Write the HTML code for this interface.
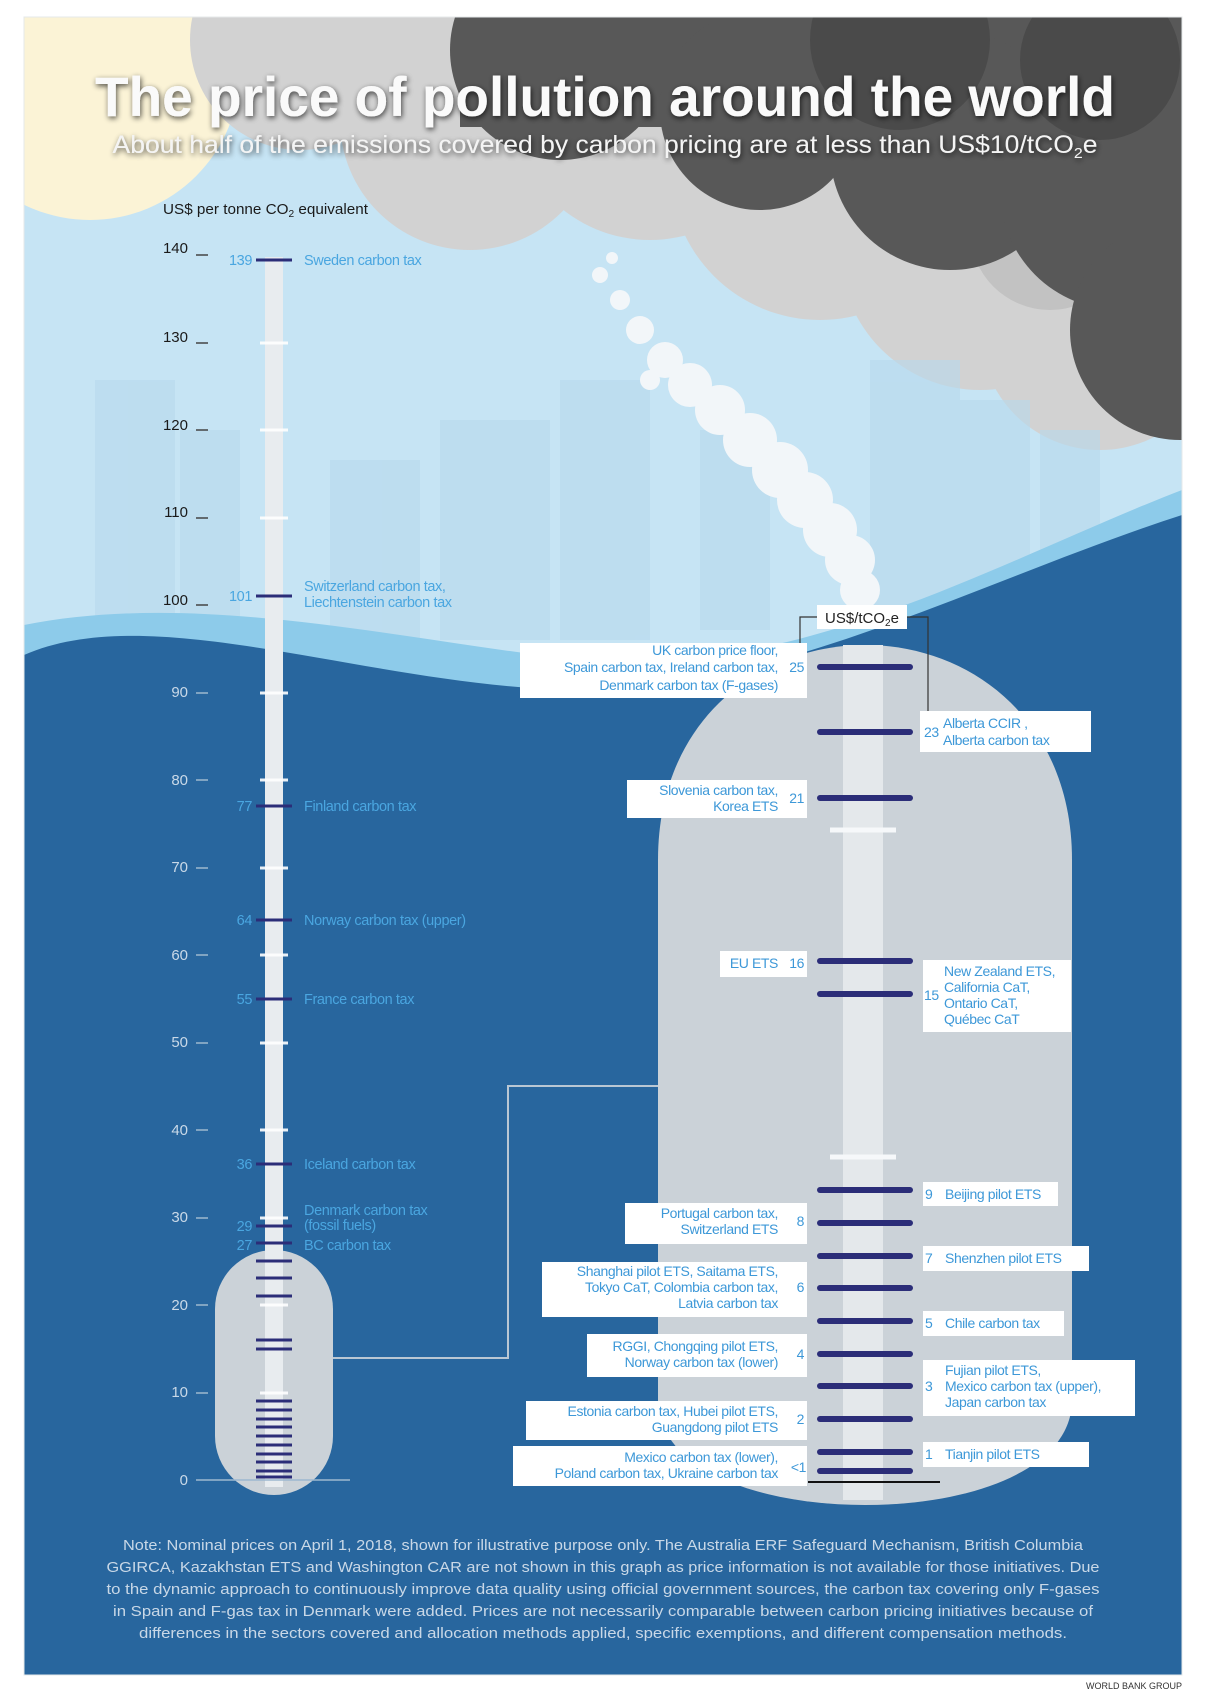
<!DOCTYPE html>
<html><head><meta charset="utf-8"><style>
html,body{margin:0;padding:0;background:#fff;}
svg{display:block;font-family:"Liberation Sans",sans-serif;}
</style></head><body>
<svg width="1211" height="1702" viewBox="0 0 1211 1702" xmlns="http://www.w3.org/2000/svg">
<defs>
<clipPath id="fr"><rect x="24" y="17" width="1158" height="1658"/></clipPath>
<filter id="sh" x="-5%" y="-30%" width="110%" height="160%"><feGaussianBlur in="SourceAlpha" stdDeviation="3"/><feOffset dx="1" dy="2"/><feComponentTransfer><feFuncA type="linear" slope="0.7"/></feComponentTransfer><feMerge><feMergeNode/><feMergeNode in="SourceGraphic"/></feMerge></filter>
</defs>
<g clip-path="url(#fr)">
<rect x="24" y="17" width="1158" height="1658" fill="#c6e4f4"/>
<circle cx="90" cy="70" r="150" fill="#fbf3d6"/>
<g fill="#d2d2d2">
<circle cx="300" cy="40" r="110"/><circle cx="470" cy="120" r="130"/><circle cx="650" cy="100" r="140"/>
<circle cx="820" cy="170" r="150"/><circle cx="980" cy="250" r="140"/><circle cx="1100" cy="330" r="120"/>
<circle cx="560" cy="20" r="120"/>
</g>
<g fill="#c2c2c2"><circle cx="760" cy="60" r="90"/><circle cx="1050" cy="230" r="80"/></g>
<g fill="#585858">
<rect x="460" y="17" width="730" height="110"/>
<circle cx="560" cy="50" r="110"/><circle cx="760" cy="110" r="100"/><circle cx="950" cy="150" r="120"/>
<circle cx="1120" cy="190" r="120"/><circle cx="1180" cy="330" r="110"/><rect x="1150" y="17" width="40" height="400"/>
</g>
<g fill="#4a4a4a"><circle cx="900" cy="40" r="90"/><circle cx="1100" cy="60" r="80"/></g>
<g fill="#b8d9ec" opacity="0.6">
<rect x="95" y="380" width="80" height="260"/><rect x="180" y="430" width="60" height="200"/>
<rect x="330" y="460" width="90" height="180"/><rect x="440" y="420" width="110" height="220"/>
<rect x="560" y="380" width="90" height="260"/><rect x="700" y="430" width="70" height="200"/>
<rect x="870" y="360" width="90" height="260"/><rect x="960" y="400" width="70" height="220"/>
<rect x="1040" y="430" width="60" height="190"/>
</g>
<g fill="#f2f6f9">
<circle cx="600" cy="275" r="8"/><circle cx="620" cy="300" r="10"/><circle cx="640" cy="330" r="14"/>
<circle cx="665" cy="360" r="18"/><circle cx="690" cy="385" r="22"/><circle cx="720" cy="410" r="25"/>
<circle cx="750" cy="440" r="27"/><circle cx="780" cy="470" r="28"/><circle cx="805" cy="500" r="28"/>
<circle cx="830" cy="530" r="27"/><circle cx="850" cy="560" r="25"/><circle cx="860" cy="590" r="20"/>
<circle cx="650" cy="380" r="10"/><circle cx="612" cy="258" r="6"/>
</g>
<path d="M24 625 C 200 590, 400 640, 580 660 C 800 680, 1000 560, 1182 490 L1182 1675 L24 1675 Z" fill="#8dcbea"/>
<path d="M24 655 C 150 600, 350 680, 560 690 C 760 700, 980 580, 1182 515 L1182 1675 L24 1675 Z" fill="#28669e"/>
<path d="M658 1400 L658 860 C 658 720, 760 645, 865 645 C 970 645, 1072 720, 1072 860 L1072 1400 C 1072 1470, 970 1505, 865 1505 C 760 1505, 658 1470, 658 1400 Z" fill="#cbd2d8"/>
<rect x="843" y="645" width="40" height="855" fill="#e4e8eb"/>
<rect x="215" y="1250" width="118" height="245" rx="59" fill="#cbd2d8"/>
<rect x="265" y="257" width="18" height="1230" fill="#e8ecef"/>
<polyline points="333,1358 508,1358 508,1086 658,1086" fill="none" stroke="#b9c7d4" stroke-width="2"/>
</g>
<rect x="24" y="17" width="1158" height="1658" fill="none" stroke="#e5e8ea" stroke-width="1"/>

<text x="605" y="116" text-anchor="middle" font-size="56" font-weight="bold" fill="#fafafa" textLength="1020" lengthAdjust="spacingAndGlyphs" filter="url(#sh)">The price of pollution around the world</text>
<text x="605" y="153" text-anchor="middle" font-size="25" fill="#f4f4f4" textLength="985" lengthAdjust="spacingAndGlyphs" filter="url(#sh)">About half of the emissions covered by carbon pricing are at less than US$10/tCO<tspan font-size="15" dy="5">2</tspan><tspan dy="-5">e</tspan></text>

<text x="163" y="214" font-size="15" fill="#1a1a1a" textLength="205" lengthAdjust="spacingAndGlyphs">US$ per tonne CO<tspan font-size="10" dy="3">2</tspan><tspan dy="-3"> equivalent</tspan></text>

<g font-size="15" text-anchor="end">
<g fill="#1a1a1a"><text x="188" y="253">140</text><text x="188" y="342">130</text><text x="188" y="430">120</text><text x="188" y="517">110</text><text x="188" y="605">100</text></g>
<g fill="#c9d9e8"><text x="188" y="697">90</text><text x="188" y="785">80</text><text x="188" y="872">70</text><text x="188" y="960">60</text><text x="188" y="1047">50</text><text x="188" y="1135">40</text><text x="188" y="1222">30</text><text x="188" y="1310">20</text><text x="188" y="1397">10</text><text x="188" y="1485">0</text></g>
</g>
<g stroke-width="1.5">
<g stroke="#444"><line x1="196" y1="255" x2="208" y2="255"/><line x1="196" y1="343" x2="208" y2="343"/><line x1="196" y1="430" x2="208" y2="430"/><line x1="196" y1="518" x2="208" y2="518"/><line x1="196" y1="605" x2="208" y2="605"/></g>
<g stroke="#9db8cf"><line x1="196" y1="693" x2="208" y2="693"/><line x1="196" y1="780" x2="208" y2="780"/><line x1="196" y1="868" x2="208" y2="868"/><line x1="196" y1="955" x2="208" y2="955"/><line x1="196" y1="1043" x2="208" y2="1043"/><line x1="196" y1="1130" x2="208" y2="1130"/><line x1="196" y1="1218" x2="208" y2="1218"/><line x1="196" y1="1305" x2="208" y2="1305"/><line x1="196" y1="1393" x2="208" y2="1393"/><line x1="196" y1="1480" x2="350" y2="1480"/></g>
</g>
<g stroke="#ffffff" stroke-width="3" opacity="0.9">
<line x1="260" y1="343" x2="288" y2="343"/><line x1="260" y1="430" x2="288" y2="430"/><line x1="260" y1="518" x2="288" y2="518"/><line x1="260" y1="693" x2="288" y2="693"/><line x1="260" y1="780" x2="288" y2="780"/><line x1="260" y1="868" x2="288" y2="868"/><line x1="260" y1="955" x2="288" y2="955"/><line x1="260" y1="1043" x2="288" y2="1043"/><line x1="260" y1="1130" x2="288" y2="1130"/><line x1="260" y1="1218" x2="288" y2="1218"/><line x1="260" y1="1305" x2="288" y2="1305"/><line x1="260" y1="1393" x2="288" y2="1393"/>
</g>
<g stroke="#2b2d78" stroke-width="3">
<line x1="256" y1="260" x2="292" y2="260"/><line x1="256" y1="596" x2="292" y2="596"/><line x1="256" y1="806" x2="292" y2="806"/><line x1="256" y1="920" x2="292" y2="920"/><line x1="256" y1="999" x2="292" y2="999"/><line x1="256" y1="1164" x2="292" y2="1164"/><line x1="256" y1="1226" x2="292" y2="1226"/><line x1="256" y1="1243" x2="292" y2="1243"/>
<line x1="256" y1="1261" x2="292" y2="1261"/><line x1="256" y1="1278" x2="292" y2="1278"/><line x1="256" y1="1296" x2="292" y2="1296"/><line x1="256" y1="1340" x2="292" y2="1340"/><line x1="256" y1="1349" x2="292" y2="1349"/>
<line x1="256" y1="1401" x2="292" y2="1401"/><line x1="256" y1="1410" x2="292" y2="1410"/><line x1="256" y1="1419" x2="292" y2="1419"/><line x1="256" y1="1427" x2="292" y2="1427"/><line x1="256" y1="1436" x2="292" y2="1436"/><line x1="256" y1="1445" x2="292" y2="1445"/><line x1="256" y1="1454" x2="292" y2="1454"/><line x1="256" y1="1462" x2="292" y2="1462"/><line x1="256" y1="1471" x2="292" y2="1471"/><line x1="256" y1="1477" x2="292" y2="1477"/>
</g>
<g font-size="14.5" fill="#4aa6e0" letter-spacing="-0.4">
<text x="252" y="265" text-anchor="end">139</text><text x="304" y="265">Sweden carbon tax</text>
<text x="252" y="601" text-anchor="end">101</text><text x="304" y="591">Switzerland carbon tax,</text><text x="304" y="607">Liechtenstein carbon tax</text>
<text x="252" y="811" text-anchor="end">77</text><text x="304" y="811">Finland carbon tax</text>
<text x="252" y="925" text-anchor="end">64</text><text x="304" y="925">Norway carbon tax (upper)</text>
<text x="252" y="1004" text-anchor="end">55</text><text x="304" y="1004">France carbon tax</text>
<text x="252" y="1169" text-anchor="end">36</text><text x="304" y="1169">Iceland carbon tax</text>
<text x="304" y="1215">Denmark carbon tax</text><text x="252" y="1231" text-anchor="end">29</text><text x="304" y="1230">(fossil fuels)</text>
<text x="252" y="1250" text-anchor="end">27</text><text x="304" y="1250">BC carbon tax</text>
</g>

<g stroke="#f6f8fa" stroke-width="5"><line x1="830" y1="830" x2="896" y2="830"/><line x1="830" y1="1157" x2="896" y2="1157"/></g>
<g stroke="#2b2d78" stroke-width="6" stroke-linecap="round">
<line x1="820" y1="667" x2="910" y2="667"/><line x1="820" y1="732" x2="910" y2="732"/><line x1="820" y1="798" x2="910" y2="798"/><line x1="820" y1="961" x2="910" y2="961"/><line x1="820" y1="994" x2="910" y2="994"/>
<line x1="820" y1="1190" x2="910" y2="1190"/><line x1="820" y1="1223" x2="910" y2="1223"/><line x1="820" y1="1256" x2="910" y2="1256"/><line x1="820" y1="1288" x2="910" y2="1288"/><line x1="820" y1="1321" x2="910" y2="1321"/><line x1="820" y1="1354" x2="910" y2="1354"/><line x1="820" y1="1386" x2="910" y2="1386"/><line x1="820" y1="1419" x2="910" y2="1419"/><line x1="820" y1="1452" x2="910" y2="1452"/><line x1="820" y1="1471" x2="910" y2="1471"/>
</g>
<line x1="808" y1="1482" x2="940" y2="1482" stroke="#111" stroke-width="2"/>

<polyline points="800,667 800,617 817,617" fill="none" stroke="#333" stroke-width="1.2"/>
<polyline points="907,617 928,617 928,717" fill="none" stroke="#333" stroke-width="1.2"/>
<rect x="817" y="605" width="90" height="24" fill="#fff"/>
<text x="862" y="623" text-anchor="middle" font-size="15" fill="#222">US$/tCO<tspan font-size="10" dy="3">2</tspan><tspan dy="-3">e</tspan></text>

<g fill="#ffffff">
<rect x="520" y="643" width="287" height="55"/><rect x="920" y="711" width="171" height="41"/>
<rect x="627" y="780" width="180" height="38"/><rect x="720" y="951" width="87" height="26"/>
<rect x="923" y="960" width="148" height="72"/><rect x="923" y="1182" width="135" height="24"/>
<rect x="625" y="1203" width="182" height="41"/><rect x="923" y="1246" width="166" height="25"/>
<rect x="542" y="1262" width="265" height="55"/><rect x="923" y="1311" width="141" height="25"/>
<rect x="587" y="1334" width="220" height="43"/><rect x="923" y="1360" width="212" height="56"/>
<rect x="526" y="1401" width="281" height="39"/><rect x="923" y="1442" width="166" height="25"/>
<rect x="513" y="1446" width="294" height="40"/>
</g>
<g font-size="14" fill="#3d98d8" letter-spacing="-0.4">
<g text-anchor="end">
<text x="778" y="655">UK carbon price floor,</text><text x="778" y="672">Spain carbon tax, Ireland carbon tax,</text><text x="778" y="690">Denmark carbon tax (F-gases)</text><text x="804" y="672">25</text>
<text x="778" y="795">Slovenia carbon tax,</text><text x="778" y="811">Korea ETS</text><text x="804" y="803">21</text>
<text x="778" y="968">EU ETS</text><text x="804" y="968">16</text>
<text x="778" y="1218">Portugal carbon tax,</text><text x="778" y="1234">Switzerland ETS</text><text x="804" y="1226">8</text>
<text x="778" y="1276">Shanghai pilot ETS, Saitama ETS,</text><text x="778" y="1292">Tokyo CaT, Colombia carbon tax,</text><text x="778" y="1308">Latvia carbon tax</text><text x="804" y="1292">6</text>
<text x="778" y="1351">RGGI, Chongqing pilot ETS,</text><text x="778" y="1367">Norway carbon tax (lower)</text><text x="804" y="1359">4</text>
<text x="778" y="1416">Estonia carbon tax, Hubei pilot ETS,</text><text x="778" y="1432">Guangdong pilot ETS</text><text x="804" y="1424">2</text>
<text x="778" y="1462">Mexico carbon tax (lower),</text><text x="778" y="1478">Poland carbon tax, Ukraine carbon tax</text><text x="806" y="1472">&lt;1</text>
</g>
<text x="924" y="737">23</text><text x="943" y="728">Alberta CCIR ,</text><text x="943" y="745">Alberta carbon tax</text>
<text x="924" y="1000">15</text><text x="944" y="976">New Zealand ETS,</text><text x="944" y="992">California CaT,</text><text x="944" y="1008">Ontario CaT,</text><text x="944" y="1024">Québec CaT</text>
<text x="925" y="1199">9</text><text x="945" y="1199">Beijing pilot ETS</text>
<text x="925" y="1263">7</text><text x="945" y="1263">Shenzhen pilot ETS</text>
<text x="925" y="1328">5</text><text x="945" y="1328">Chile carbon tax</text>
<text x="925" y="1391">3</text><text x="945" y="1375">Fujian pilot ETS,</text><text x="945" y="1391">Mexico carbon tax (upper),</text><text x="945" y="1407">Japan carbon tax</text>
<text x="925" y="1459">1</text><text x="945" y="1459">Tianjin pilot ETS</text>
</g>

<g font-size="15" fill="#c9d8e7" text-anchor="middle">
<text x="603" y="1550" textLength="960" lengthAdjust="spacingAndGlyphs">Note: Nominal prices on April 1, 2018, shown for illustrative purpose only. The Australia ERF Safeguard Mechanism, British Columbia</text>
<text x="603" y="1572" textLength="993" lengthAdjust="spacingAndGlyphs">GGIRCA, Kazakhstan ETS and Washington CAR are not shown in this graph as price information is not available for those initiatives. Due</text>
<text x="603" y="1594" textLength="993" lengthAdjust="spacingAndGlyphs">to the dynamic approach to continuously improve data quality using official government sources, the carbon tax covering only F-gases</text>
<text x="603" y="1616" textLength="980" lengthAdjust="spacingAndGlyphs">in Spain and F-gas tax in Denmark were added. Prices are not necessarily comparable between carbon pricing initiatives because of</text>
<text x="603" y="1638" textLength="928" lengthAdjust="spacingAndGlyphs">differences in the sectors covered and allocation methods applied, specific exemptions, and different compensation methods.</text>
</g>
<text x="1182" y="1689" text-anchor="end" font-size="9" fill="#333">WORLD BANK GROUP</text>
</svg>
</body></html>
